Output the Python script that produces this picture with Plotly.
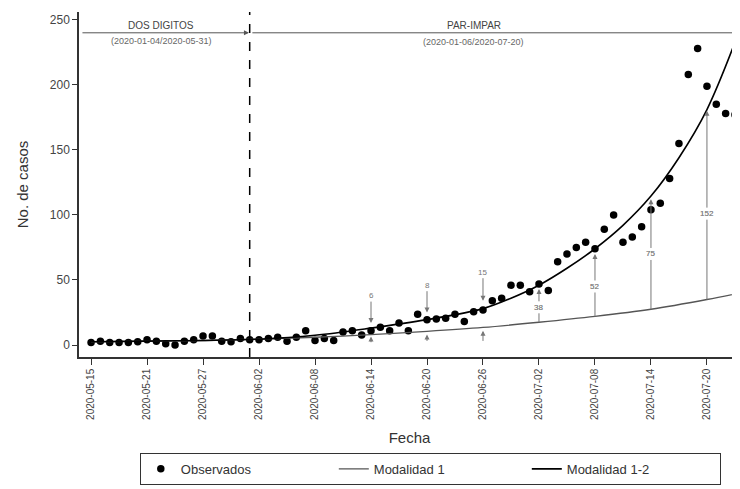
import plotly.graph_objects as go
import pandas as pd

# ---------------- data ----------------
obs_start = "2020-05-15"
observed = [2, 3, 2, 2, 2, 2.5, 4, 3, 1, 0,
            3, 4, 7, 7, 3, 2.5, 5, 4, 4, 5,
            6, 3, 6, 11, 3.5, 5, 3.5, 10, 11, 7.7,
            11, 13.6, 11, 17, 11, 23.6, 19.5, 20, 20.5, 23.6,
            18, 25.6, 27, 34, 36, 46, 46, 41, 47, 42,
            64, 70, 75, 79, 74, 89, 100, 79, 83, 91,
            104, 109, 128, 155, 208, 228, 199, 185, 178, 177]
obs_dates = pd.date_range(obs_start, periods=len(observed), freq="D")

curve12_dates = ["2020-05-15", "2020-05-21", "2020-05-27", "2020-06-02", "2020-06-08",
                 "2020-06-14", "2020-06-20", "2020-06-26", "2020-06-29", "2020-07-02",
                 "2020-07-05", "2020-07-08", "2020-07-11", "2020-07-14", "2020-07-17",
                 "2020-07-20", "2020-07-23 12:00"]
modalidad_12 = [2.5, 3, 3.5, 4.5, 7.5, 13, 19.5, 28, 36, 46, 59, 74, 92, 114.5, 144, 181, 242]

curve1_dates = ["2020-05-15", "2020-05-21", "2020-05-27", "2020-06-02", "2020-06-08",
                "2020-06-14", "2020-06-20", "2020-06-26", "2020-07-02", "2020-07-08",
                "2020-07-14", "2020-07-20", "2020-07-23 12:00"]
modalidad_1 = [2.5, 3, 3.5, 4.5, 6, 8, 10.5, 13.5, 17.5, 22, 27.5, 35, 40]

tick_dates = ["2020-05-15", "2020-05-21", "2020-05-27", "2020-06-02", "2020-06-08",
              "2020-06-14", "2020-06-20", "2020-06-26", "2020-07-02", "2020-07-08",
              "2020-07-14", "2020-07-20"]
y_ticks = [0, 50, 100, 150, 200, 250]

# down arrows (label above, pointing to upper curve)
down_dates = ["2020-06-14", "2020-06-20", "2020-06-26"]
down_labels = ["6", "8", "15"]
down_label_y = [38, 46, 56]
down_tip_y = [17, 25, 34]
up_small_tail = [1.0, 2.0, 2.0]
up_small_tip = [6.5, 8.0, 11.0]

# between-curve arrows
mid_dates = ["2020-07-02", "2020-07-08", "2020-07-14", "2020-07-20"]
mid_labels = ["38", "52", "75", "152"]
mid_label_y = [29, 45, 70, 101]
mid_top_y = [43, 70, 112, 180]
mid_bot_y = [17.5, 22, 27.5, 35]

split_date = "2020-06-01"
x_range = ["2020-05-13 17:00", "2020-07-23 13:00"]
y_range = [-9.2, 256]

FONT = "Liberation Sans, Arial, sans-serif"

fig = go.Figure()
fig.add_trace(go.Scatter(x=obs_dates, y=observed, mode="markers", name="Observados",
                         marker=dict(color="black", size=7.5)))
fig.add_trace(go.Scatter(x=curve1_dates, y=modalidad_1, mode="lines", name="Modalidad 1",
                         line=dict(color="#555555", width=1.3, shape="spline")))
fig.add_trace(go.Scatter(x=curve12_dates, y=modalidad_12, mode="lines", name="Modalidad 1-2",
                         line=dict(color="black", width=1.6, shape="spline")))

# vertical dashed split
fig.add_shape(type="line", x0=split_date, x1=split_date, xref="x", yref="paper", y0=0, y1=1,
              line=dict(color="black", width=1.5, dash="dash"))

ann = []
arrow_col = "#777777"
# top period arrows
ann.append(dict(x="2020-05-31 22:00", y=240, ax="2020-05-13 22:00", ay=240, xref="x", yref="y",
                axref="x", ayref="y", text="", showarrow=True, arrowhead=2, arrowsize=1,
                arrowwidth=1, arrowcolor="#555555"))
ann.append(dict(x="2020-07-23 12:00", y=240, ax="2020-06-01 03:00", ay=240, xref="x", yref="y",
                axref="x", ayref="y", text="", showarrow=True, arrowhead=2, arrowsize=1,
                arrowwidth=1, arrowcolor="#555555"))
ann.append(dict(x="2020-05-22 12:00", y=246, text="DOS DIGITOS", showarrow=False,
                font=dict(family=FONT, size=10, color="#444")))
ann.append(dict(x="2020-05-22 12:00", y=234, text="(2020-01-04/2020-05-31)", showarrow=False,
                font=dict(family=FONT, size=9, color="#666")))
ann.append(dict(x="2020-06-25", y=246, text="PAR-IMPAR", showarrow=False,
                font=dict(family=FONT, size=10, color="#444")))
ann.append(dict(x="2020-06-25", y=233, text="(2020-01-06/2020-07-20)", showarrow=False,
                font=dict(family=FONT, size=9, color="#666")))

for d, lab, ly, ty, st, sp in zip(down_dates, down_labels, down_label_y, down_tip_y,
                                  up_small_tail, up_small_tip):
    ann.append(dict(x=d, y=ty, ax=d, ay=ly, axref="x", ayref="y", text=lab, showarrow=True,
                    arrowhead=2, arrowsize=1, arrowwidth=1, arrowcolor=arrow_col,
                    font=dict(family=FONT, size=8, color="#777")))
    ann.append(dict(x=d, y=sp, ax=d, ay=st, axref="x", ayref="y", text="", showarrow=True,
                    arrowhead=2, arrowsize=1, arrowwidth=1, arrowcolor=arrow_col))

for d, lab, ly, ty, by in zip(mid_dates, mid_labels, mid_label_y, mid_top_y, mid_bot_y):
    ann.append(dict(x=d, y=ty, ax=d, ay=ly, axref="x", ayref="y", text=lab, showarrow=True,
                    arrowhead=2, arrowsize=1, arrowwidth=1, arrowcolor=arrow_col,
                    font=dict(family=FONT, size=8, color="#888")))
    ann.append(dict(x=d, y=by, ax=d, ay=ly, axref="x", ayref="y", text=lab, showarrow=True,
                    arrowhead=0, arrowwidth=1, arrowcolor=arrow_col,
                    font=dict(family=FONT, size=8, color="#888")))

# page body has an 8px margin: figure is sized to fill the rest of the 740x489 window
fig.update_layout(
    width=732, height=481,
    margin=dict(l=71, r=0, t=4, b=132, autoexpand=False),
    paper_bgcolor="white", plot_bgcolor="white",
    font=dict(family=FONT, color="#333"),
    annotations=ann,
    showlegend=True,
    legend=dict(orientation="h", x=0.092, xanchor="left", y=-0.278, yanchor="top",
                bordercolor="#333", borderwidth=1, entrywidth=148, entrywidthmode="pixels",
                font=dict(family=FONT, size=13, color="#333")),
)
fig.update_xaxes(range=x_range, tickmode="array", tickvals=tick_dates, tickformat="%Y-%m-%d",
                 tickangle=-90, ticks="outside", ticklen=6, tickcolor="#333", automargin=False,
                 tickfont=dict(family=FONT, size=10, color="#444"),
                 showline=True, linecolor="#333", linewidth=1.5, showgrid=False, zeroline=False,
                 title=dict(text="Fecha", font=dict(family=FONT, size=15, color="#333"), standoff=14))
fig.update_yaxes(range=y_range, tickvals=y_ticks, ticks="outside", ticklen=5, tickcolor="#333",
                 tickfont=dict(family=FONT, size=12, color="#444"), automargin=False,
                 showline=True, linecolor="#333", linewidth=1.5, showgrid=False, zeroline=False,
                 title=dict(text="No. de casos", font=dict(family=FONT, size=15, color="#333"), standoff=18))

fig.write_html("out.html")
